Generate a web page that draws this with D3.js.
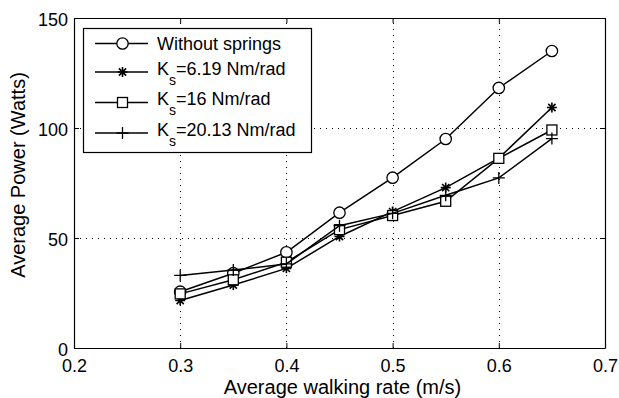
<!DOCTYPE html>
<html>
<head>
<meta charset="utf-8">
<script src="https://cdn.jsdelivr.net/npm/d3@7"></script>
<style>
  html, body { margin: 0; padding: 0; background: #fff; }
  svg { display: block; font-family: "Liberation Sans", Arial, Helvetica, sans-serif; }
</style>
</head>
<body>
<div id="chart"></div>
<script>
// Walking rate (m/s) and average power (W) for each spring setting
const speeds = [0.30, 0.35, 0.40, 0.45, 0.50, 0.55, 0.60, 0.65];
const withoutSprings = [25.6, 34.0, 43.5, 61.5, 77.4, 95.0, 118.2, 135.0];
const ks619 = [21.6, 28.6, 36.2, 50.7, 62.0, 72.9, 86.3, 109.3];
const ks16 = [24.6, 31.0, 39.0, 53.8, 60.2, 66.7, 86.2, 99.1];
const ks2013 = [33.0, 35.4, 38.2, 55.6, 61.2, 69.4, 77.3, 95.2];

const xTicks = [0.2, 0.3, 0.4, 0.5, 0.6, 0.7];
const yTicks = [0, 50, 100, 150];

const seriesNames = ["Without springs", "6.19 Nm/rad", "16 Nm/rad", "20.13 Nm/rad"];
const seriesValues = [withoutSprings, ks619, ks16, ks2013];
const markerTypes = ["circle", "star", "square", "plus"];

const W = 619, H = 398;
const m = { left: 74, right: 14, top: 18, bottom: 50 };

const svg = d3.select("#chart").append("svg")
  .attr("width", W).attr("height", H);

const x = d3.scaleLinear().domain([0.2, 0.7]).range([m.left, W - m.right]);
const y = d3.scaleLinear().domain([0, 150]).range([H - m.bottom, m.top]);

const x0 = x.range()[0], x1 = x.range()[1];
const y0 = y.range()[0], y1 = y.range()[1];

// dotted grid
const grid = svg.append("g").attr("stroke", "#000").attr("stroke-width", 1)
  .attr("stroke-dasharray", "1,5");
grid.selectAll(".gx").data(xTicks.slice(1, -1)).join("line")
  .attr("x1", d => Math.round(x(d)) + 0.5).attr("x2", d => Math.round(x(d)) + 0.5)
  .attr("y1", y0).attr("y2", y1);
grid.selectAll(".gy").data(yTicks.slice(1, -1)).join("line")
  .attr("y1", d => Math.round(y(d)) + 0.5).attr("y2", d => Math.round(y(d)) + 0.5)
  .attr("x1", x0).attr("x2", x1);

// axes with inward ticks on all four sides
const fmtX = d3.format(".1f");
const axB = svg.append("g").attr("transform", `translate(0,${y0})`)
  .call(d3.axisBottom(x).tickValues(xTicks).tickFormat(fmtX).tickSizeInner(-5).tickSizeOuter(0));
const axT = svg.append("g").attr("transform", `translate(0,${y1})`)
  .call(d3.axisTop(x).tickValues(xTicks).tickFormat("").tickSizeInner(-5).tickSizeOuter(0));
const axL = svg.append("g").attr("transform", `translate(${x0},0)`)
  .call(d3.axisLeft(y).tickValues(yTicks).tickSizeInner(-5).tickSizeOuter(0).tickPadding(6));
const axR = svg.append("g").attr("transform", `translate(${x1},0)`)
  .call(d3.axisRight(y).tickValues(yTicks).tickFormat("").tickSizeInner(-5).tickSizeOuter(0));

[axB, axT, axL, axR].forEach(a => {
  a.select(".domain").attr("stroke", "#000").attr("stroke-width", 1.2);
  a.selectAll(".tick line").attr("stroke", "#000");
  a.selectAll("text").attr("fill", "#000").style("font-size", "18px")
    .style("font-family", '"Liberation Sans", Arial, sans-serif');
});
axB.selectAll("text").attr("y", 24).attr("dy", 0);
axL.selectAll("text").attr("dy", "0.4em");

// axis titles
svg.append("text").attr("x", (x0 + x1) / 2 + 3).attr("y", 394)
  .attr("text-anchor", "middle").style("font-size", "20px")
  .text("Average walking rate (m/s)");
svg.append("text").attr("transform", `translate(25,${(y0 + y1) / 2 - 8}) rotate(-90)`)
  .attr("text-anchor", "middle").style("font-size", "20px")
  .text("Average Power (Watts)");

// marker drawing
function drawMarker(g, type) {
  g.attr("fill", "none").attr("stroke", "#000").attr("stroke-width", 1.3);
  if (type === "circle") {
    g.append("circle").attr("r", 5.7).attr("fill", "#fff");
  } else if (type === "square") {
    g.append("rect").attr("x", -5).attr("y", -5).attr("width", 10).attr("height", 10).attr("fill", "#fff");
  } else if (type === "plus") {
    g.append("path").attr("d", "M-6,0H6M0,-6V6");
  } else if (type === "star") {
    g.append("path").attr("d", "M-5,0H5M0,-5V5M-3.6,-3.6L3.6,3.6M-3.6,3.6L3.6,-3.6").attr("stroke-width", 1.6);
  }
}

const line = d3.line().x((d, i) => x(speeds[i])).y(d => y(d));

const plot = svg.append("g");
seriesValues.forEach((vals, k) => {
  const g = plot.append("g");
  g.append("path").datum(vals).attr("d", line)
    .attr("fill", "none").attr("stroke", "#000").attr("stroke-width", 1.5);
  g.selectAll(".mk").data(vals).join("g")
    .attr("transform", (d, i) => `translate(${x(speeds[i])},${y(d)})`)
    .each(function () { drawMarker(d3.select(this), markerTypes[k]); });
});

// legend
const lg = svg.append("g");
lg.append("rect").attr("x", 83.5).attr("y", 28.5).attr("width", 228).attr("height", 124)
  .attr("fill", "#fff").attr("stroke", "#000").attr("stroke-width", 1.2);
const rowY = [43.5, 72, 102.5, 133];
seriesNames.forEach((name, k) => {
  const ry = rowY[k];
  lg.append("line").attr("x1", 95).attr("x2", 148).attr("y1", ry).attr("y2", ry)
    .attr("stroke", "#000").attr("stroke-width", 1.5);
  const mk = lg.append("g").attr("transform", `translate(122.5,${ry})`);
  drawMarker(mk, markerTypes[k]);
  const t = lg.append("text").attr("x", 157).style("font-size", "18px");
  if (k === 0) {
    t.attr("y", ry + 6).text(name);
  } else {
    t.attr("y", ry + 2.5);
    t.append("tspan").text("K");
    t.append("tspan").attr("dy", 10).style("font-size", "14px").text("s");
    t.append("tspan").attr("dy", -10).text("=" + name);
  }
});
</script>
</body>
</html>
